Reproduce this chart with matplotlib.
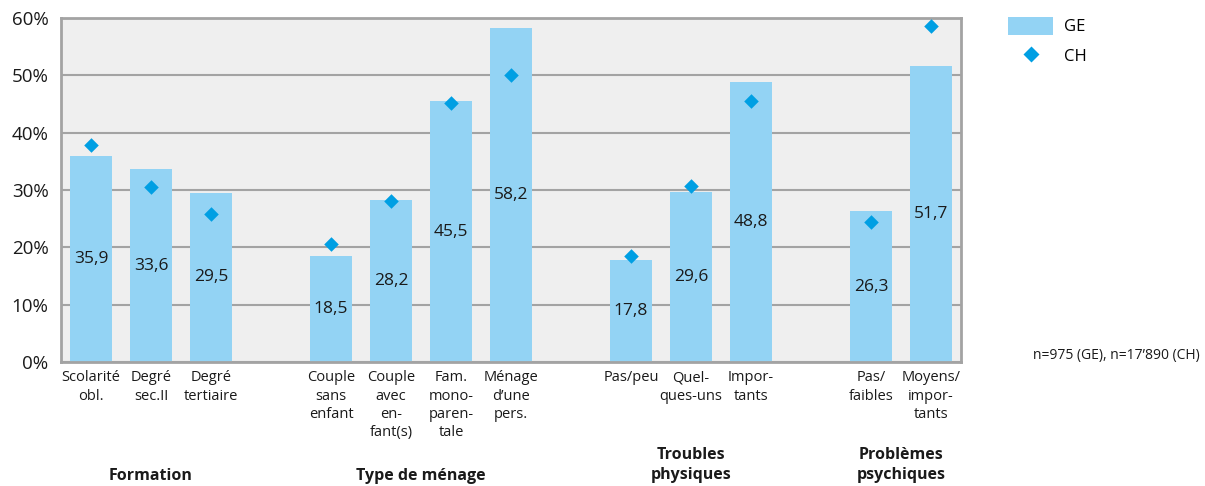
import numpy as np
import matplotlib
matplotlib.use('Agg')
import matplotlib.pyplot as plt
from matplotlib.lines import Line2D
from matplotlib.patches import Patch

plt.rcParams['font.family'] = ['Open Sans', 'DejaVu Sans']

# categories (slot positions leave a gap between groups)
categories = ['Scolarité\nobl.', 'Degré\nsec.II', 'Degré\ntertiaire',
              'Couple\nsans\nenfant', 'Couple\navec\nen-\nfant(s)', 'Fam.\nmono-\nparen-\ntale', 'Ménage\nd\u2019une\npers.',
              'Pas/peu', 'Quel-\nques-uns', 'Impor-\ntants',
              'Pas/\nfaibles', 'Moyens/\nimpor-\ntants']
slots = [0, 1, 2, 4, 5, 6, 7, 9, 10, 11, 13, 14]
groups = ['Formation', 'Type de ménage', 'Troubles\nphysiques', 'Problèmes\npsychiques']
group_slots = [1, 5.5, 10, 13.5]

ge_values = [35.9, 33.6, 29.5, 18.5, 28.2, 45.5, 58.2, 17.8, 29.6, 48.8, 26.3, 51.7]
ch_values = [37.8, 30.6, 25.8, 20.5, 28.1, 45.2, 50.0, 18.5, 30.7, 45.6, 24.4, 58.6]

bar_color = '#93D3F4'
ch_color = '#009FE3'
grid_color = '#A3A3A3'

fig = plt.figure(figsize=(12.05, 4.86), dpi=100)
ax = fig.add_axes([61/1205, 1 - 362/486, 900/1205, 344/486])
ax.set_facecolor('#EFEFEF')

ax.bar(slots, ge_values, width=0.7, color=bar_color, zorder=2)
ax.scatter(slots, ch_values, marker='D', s=55, color=ch_color, zorder=3, linewidths=0)

for x, v in zip(slots, ge_values):
    ax.text(x, v / 2, f'{v:.1f}'.replace('.', ','), ha='center', va='center',
            fontsize=12.5, color='#1a1a1a', zorder=4)

ax.set_xlim(-0.5, 14.5)
ax.set_ylim(0, 60)
ax.set_yticks(range(0, 61, 10))
ax.set_yticklabels([f'{t}%' for t in range(0, 61, 10)], fontsize=13.5, color='#1a1a1a')
ax.yaxis.grid(True, color=grid_color, linewidth=1.5, zorder=1)
ax.set_axisbelow(True)
ax.tick_params(axis='y', length=0, pad=9)

ax.set_xticks(slots)
ax.set_xticklabels(categories, fontsize=10.5, linespacing=1.3, va='top', color='#1a1a1a')
ax.tick_params(axis='x', length=0, pad=6)

for s in ax.spines.values():
    s.set_color(grid_color)
    s.set_linewidth(2)

for gx, g in zip(group_slots, groups):
    xf = (ax.transData.transform((gx, 0))[0]) / fig.bbox.width
    ytop = 468 if '\n' not in g else 447
    fig.text(xf, 1 - ytop / 486, g, ha='center', va='top',
             fontsize=11.5, fontweight='bold', linespacing=1.35, color='#1a1a1a')

handles = [Patch(facecolor=bar_color, edgecolor='none', label='GE'),
           Line2D([0], [0], marker='D', color='none', markerfacecolor=ch_color,
                  markeredgecolor='none', markersize=8, label='CH')]
fig.legend(handles=handles, loc='upper left', bbox_to_anchor=(993/1205, 1 - 2/486),
           frameon=False, fontsize=12, handlelength=2.7, handleheight=1.26, labelspacing=0.65,
           handletextpad=0.65)

fig.text(1200/1205, 1 - 356/486, 'n=975 (GE), n=17\u2019890 (CH)', ha='right', va='center',
         fontsize=10, color='#1a1a1a')

fig.savefig('out.png', dpi=100)
